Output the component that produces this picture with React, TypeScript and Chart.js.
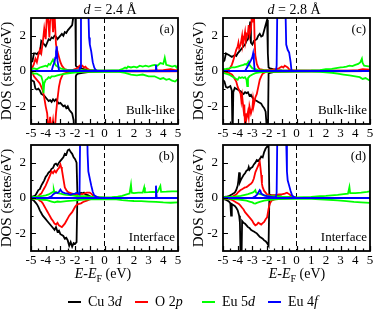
import React, { useEffect, useRef } from "react";
import { Chart, registerables } from "chart.js";

Chart.register(...registerables);

type Pt = [number, number];

// ---------- axes / categories ----------
const X_TICKS = [-5, -4, -3, -2, -1, 0, 1, 2, 3, 4, 5];
const X_MINOR = [-4.5, -3.5, -2.5, -1.5, -0.5, 0.5, 1.5, 2.5, 3.5, 4.5];
const Y_TICKS = [-2, 0, 2];
const Y_MINOR = [-1, 1];
const SPECIES = ["Cu 3d", "O 2p", "Eu 5d", "Eu 4f"];
const COLORS = ["#000000", "#ff0000", "#00ff00", "#0000ff"];

// ---------- (a) d = 2.4 Å, bulk-like ----------
const cuUpA: Pt[] = [[-5,0.5],[-4.9,0.55],[-4.8,1.0],[-4.7,1.0],[-4.6,0.95],[-4.5,1.05],[-4.4,1.0],[-4.3,1.7],[-4.2,1.6],[-4.1,1.5],[-4.0,1.4],[-3.9,1.6],[-3.8,1.8],[-3.7,1.75],[-3.6,1.9],[-3.5,1.85],[-3.4,2.0],[-3.3,1.95],[-3.2,1.8],[-3.1,1.9],[-3.0,2.0],[-2.9,2.1],[-2.8,2.0],[-2.7,2.2],[-2.6,2.15],[-2.5,2.3],[-2.4,2.4],[-2.3,2.5],[-2.2,2.6],[-2.1,3.2],[-2.0,5],[-1.95,0.3],[-1.9,0.25],[-1.8,0.2],[-1.6,0.15],[-1.4,0.1],[-1.0,0.05],[-0.5,0.03],[0,0.02],[5,0]];
const cuDnA: Pt[] = [[-5,-0.5],[-4.9,-0.55],[-4.8,-0.6],[-4.7,-1.0],[-4.6,-1.05],[-4.5,-1.0],[-4.4,-1.1],[-4.3,-1.3],[-4.2,-1.35],[-4.1,-1.4],[-4.0,-1.5],[-3.9,-1.6],[-3.8,-1.7],[-3.7,-1.65],[-3.6,-1.75],[-3.5,-1.6],[-3.4,-1.7],[-3.3,-1.6],[-3.2,-1.75],[-3.1,-1.85],[-3.0,-1.8],[-2.9,-1.9],[-2.8,-2.0],[-2.7,-1.95],[-2.6,-2.1],[-2.5,-2.0],[-2.4,-2.2],[-2.3,-2.3],[-2.2,-2.4],[-2.1,-2.8],[-2.0,-5],[-1.95,-0.3],[-1.9,-0.2],[-1.8,-0.15],[-1.5,-0.1],[-1.0,-0.05],[0,-0.02],[5,0]];
const oUpA: Pt[] = [[-5,0.0],[-4.9,0.2],[-4.8,0.4],[-4.7,0.7],[-4.6,0.5],[-4.5,0.9],[-4.4,1.2],[-4.3,1.0],[-4.2,1.6],[-4.1,2.4],[-4.0,1.8],[-3.9,3.5],[-3.8,2.6],[-3.75,1.9],[-3.7,2.8],[-3.6,3.6],[-3.5,2.2],[-3.4,3.3],[-3.3,1.5],[-3.2,1.1],[-3.1,0.8],[-3.0,0.5],[-2.9,0.3],[-2.8,0.2],[-2.7,0.1],[-2.5,0.05],[-2.2,0.05],[-2.0,0.1],[-1.8,0.2],[-1.7,0.3],[-1.6,0.25],[-1.5,0.3],[-1.4,0.2],[-1.3,0.25],[-1.2,0.15],[-1.1,0.1],[-1.0,0.05],[-0.8,0.02],[0,0.0],[3.0,0.02],[4.0,0.05],[4.5,0.1],[4.8,0.05],[5,0.05]];
const oDnA: Pt[] = [[-5,-0.05],[-4.9,-0.1],[-4.8,-0.3],[-4.7,-0.4],[-4.6,-0.5],[-4.5,-0.6],[-4.4,-0.7],[-4.3,-0.9],[-4.2,-1.1],[-4.1,-1.5],[-4.0,-2.0],[-3.9,-2.4],[-3.8,-3.5],[-3.7,-2.6],[-3.6,-3.4],[-3.5,-2.8],[-3.4,-3.6],[-3.3,-2.4],[-3.2,-1.6],[-3.1,-0.9],[-3.0,-0.5],[-2.9,-0.3],[-2.8,-0.15],[-2.6,-0.1],[-2.3,-0.05],[-2.0,-0.05],[-1.5,-0.05],[-1.0,-0.02],[0,0],[5,-0.02]];
const euUpA: Pt[] = [[-5,0.1],[-4.8,0.15],[-4.6,0.1],[-4.4,0.2],[-4.2,0.25],[-4.0,0.3],[-3.9,0.25],[-3.8,0.4],[-3.7,0.35],[-3.6,0.5],[-3.5,0.65],[-3.4,0.45],[-3.3,0.3],[-3.2,0.25],[-3.0,0.15],[-2.8,0.1],[-2.5,0.05],[-2.0,0.05],[-1.0,0.03],[0,0.02],[1.0,0.05],[1.2,0.1],[1.4,0.2],[1.5,0.15],[1.6,0.25],[1.8,0.2],[2.0,0.25],[2.2,0.2],[2.4,0.3],[2.6,0.25],[2.8,0.3],[3.0,0.25],[3.2,0.3],[3.4,0.35],[3.6,0.3],[3.8,0.45],[4.0,0.4],[4.1,0.75],[4.2,0.35],[4.4,0.3],[4.6,0.25],[4.8,0.3],[4.9,0.2],[5.0,0.35]];
const euDnA: Pt[] = [[-5,-0.1],[-4.8,-0.15],[-4.6,-0.15],[-4.4,-0.25],[-4.3,-0.3],[-4.2,-0.6],[-4.15,-1.25],[-4.1,-0.7],[-4.0,-0.5],[-3.9,-0.45],[-3.8,-0.35],[-3.7,-0.4],[-3.6,-0.3],[-3.4,-0.3],[-3.2,-0.25],[-3.0,-0.2],[-2.6,-0.15],[-2.2,-0.1],[-1.5,-0.05],[0,-0.03],[1.0,-0.05],[1.4,-0.1],[1.8,-0.2],[2.2,-0.25],[2.6,-0.2],[3.0,-0.3],[3.4,-0.3],[3.8,-0.45],[4.0,-0.4],[4.2,-0.5],[4.4,-0.45],[4.6,-0.55],[4.8,-0.6],[5.0,-0.45]];
const fUpA: Pt[] = [[-5,0],[-3.6,0],[-3.5,0.3],[-3.4,0.5],[-3.35,0.75],[-3.3,1.1],[-3.25,1.4],[-3.2,0.6],[-3.1,0.05],[-3.0,0],[-1.7,0.05],[-1.65,0.2],[-1.6,4.5],[-1.5,5],[-1.2,5],[-1.1,3.5],[-1.05,1.9],[-1.0,1.5],[-0.9,1.1],[-0.8,0.5],[-0.7,0.2],[-0.6,0.05],[-0.5,0],[3.45,0],[3.5,0.35],[3.55,0],[5,0]];
const fDnA: Pt[] = [[-5,0],[5,0]];

// ---------- (b) d = 2.4 Å, interface ----------
const cuUpB: Pt[] = [[-5,0.05],[-4.9,0.08],[-4.8,0.1],[-4.7,0.15],[-4.6,0.3],[-4.5,0.45],[-4.4,0.5],[-4.3,0.7],[-4.2,0.85],[-4.1,1.0],[-4.0,1.2],[-3.9,1.3],[-3.8,1.45],[-3.7,1.5],[-3.6,1.65],[-3.5,1.7],[-3.4,1.9],[-3.3,1.95],[-3.2,1.85],[-3.1,2.0],[-3.0,2.1],[-2.9,2.2],[-2.8,2.3],[-2.7,2.5],[-2.6,2.45],[-2.5,2.7],[-2.4,2.75],[-2.3,2.6],[-2.2,2.5],[-2.1,2.3],[-2.0,2.2],[-1.9,2.0],[-1.85,0.4],[-1.8,0.2],[-1.7,0.25],[-1.6,0.3],[-1.5,0.25],[-1.4,0.3],[-1.3,0.2],[-1.1,0.15],[-0.9,0.05],[0,0.02],[5,0]];
const cuDnB: Pt[] = [[-5,-0.05],[-4.9,-0.1],[-4.8,-0.15],[-4.7,-0.25],[-4.6,-0.35],[-4.5,-0.5],[-4.4,-0.7],[-4.3,-0.85],[-4.2,-1.0],[-4.1,-1.1],[-4.0,-1.2],[-3.9,-1.3],[-3.8,-1.4],[-3.7,-1.5],[-3.6,-1.6],[-3.5,-1.7],[-3.4,-1.8],[-3.3,-1.65],[-3.2,-1.9],[-3.1,-1.85],[-3.0,-2.05],[-2.9,-2.1],[-2.8,-2.15],[-2.7,-2.3],[-2.6,-2.25],[-2.5,-2.4],[-2.4,-2.7],[-2.3,-2.5],[-2.2,-2.75],[-2.1,-2.55],[-2.0,-2.6],[-1.9,-2.5],[-1.85,-0.1],[-1.7,-0.05],[-1.0,-0.02],[0,0],[5,0]];
const oUpB: Pt[] = [[-5,0],[-4.8,0.02],[-4.6,0.05],[-4.5,0.1],[-4.4,0.2],[-4.3,0.25],[-4.2,0.4],[-4.1,0.55],[-4.0,0.7],[-3.9,0.9],[-3.8,1.1],[-3.7,1.3],[-3.6,1.5],[-3.5,1.4],[-3.4,1.55],[-3.3,1.45],[-3.2,1.6],[-3.1,1.7],[-3.0,1.9],[-2.95,1.75],[-2.9,1.6],[-2.8,1.1],[-2.7,0.6],[-2.6,0.45],[-2.5,0.35],[-2.4,0.3],[-2.2,0.25],[-2.0,0.2],[-1.8,0.2],[-1.6,0.22],[-1.4,0.25],[-1.2,0.3],[-1.0,0.3],[-0.9,0.25],[-0.8,0.15],[-0.7,0.1],[-0.6,0.05],[-0.4,0.02],[0,0.01],[5,0.01]];
const oDnB: Pt[] = [[-5,0],[-4.8,-0.02],[-4.6,-0.05],[-4.5,-0.08],[-4.4,-0.15],[-4.3,-0.2],[-4.2,-0.3],[-4.1,-0.45],[-4.0,-0.6],[-3.9,-0.75],[-3.8,-0.9],[-3.7,-1.05],[-3.6,-1.2],[-3.5,-1.3],[-3.4,-1.45],[-3.3,-1.5],[-3.2,-1.4],[-3.1,-1.55],[-3.0,-1.6],[-2.9,-1.65],[-2.8,-1.55],[-2.7,-1.45],[-2.6,-1.3],[-2.5,-1.15],[-2.4,-1.0],[-2.3,-0.9],[-2.2,-0.8],[-2.1,-0.65],[-2.0,-0.5],[-1.9,-0.4],[-1.8,-0.35],[-1.6,-0.3],[-1.4,-0.2],[-1.2,-0.15],[-1.0,-0.08],[-0.7,-0.03],[0,0],[5,0]];
const euUpB: Pt[] = [[-5,0.05],[-4.6,0.08],[-4.2,0.12],[-4.0,0.15],[-3.8,0.2],[-3.6,0.3],[-3.5,0.35],[-3.45,0.47],[-3.4,0.3],[-3.3,0.35],[-3.2,0.28],[-3.0,0.25],[-2.8,0.2],[-2.6,0.18],[-2.2,0.15],[-1.8,0.1],[-1.4,0.1],[-1.0,0.08],[-0.5,0.05],[0,0.04],[0.5,0.05],[0.9,0.08],[1.2,0.12],[1.5,0.2],[1.7,0.25],[1.8,0.75],[1.85,0.3],[2.0,0.28],[2.3,0.3],[2.6,0.3],[2.7,0.6],[2.75,0.32],[3.0,0.33],[3.3,0.35],[3.6,0.33],[3.8,0.68],[3.85,0.35],[4.2,0.36],[4.6,0.38],[5.0,0.38]];
const euDnB: Pt[] = [[-5,-0.03],[-4.6,-0.05],[-4.2,-0.1],[-3.9,-0.12],[-3.6,-0.2],[-3.4,-0.25],[-3.2,-0.2],[-3.0,-0.22],[-2.6,-0.18],[-2.2,-0.15],[-1.8,-0.12],[-1.2,-0.08],[0,-0.06],[0.8,-0.08],[1.2,-0.12],[1.6,-0.15],[2.0,-0.17],[2.5,-0.18],[3.0,-0.2],[3.5,-0.22],[4.0,-0.25],[4.5,-0.27],[5.0,-0.25]];
const fUpB: Pt[] = [[-5,0],[-4.0,0],[-3.8,0.02],[-3.6,0.1],[-3.5,0.2],[-3.4,0.25],[-3.3,0.3],[-3.2,0.28],[-3.1,0.35],[-3.0,0.47],[-2.9,0.35],[-2.8,0.3],[-2.7,0.28],[-2.5,0.25],[-2.3,0.18],[-2.2,0.22],[-2.0,0.25],[-1.9,0.3],[-1.8,0.25],[-1.7,0.2],[-1.65,4],[-1.6,5],[-1.2,5],[-1.15,2.5],[-1.1,1.5],[-1.0,1.1],[-0.9,0.7],[-0.8,0.35],[-0.7,0.15],[-0.5,0.05],[-0.3,0],[3.45,0],[3.5,0.7],[3.55,0],[5,0]];
const fDnB: Pt[] = [[-5,0],[5,0]];

// ---------- (c) d = 2.8 Å, bulk-like ----------
const cuUpC: Pt[] = [[-5,0.5],[-4.9,0.6],[-4.8,1.0],[-4.7,0.95],[-4.6,0.9],[-4.5,0.85],[-4.4,0.8],[-4.3,0.85],[-4.2,0.9],[-4.1,0.85],[-4.0,1.0],[-3.9,1.1],[-3.8,1.2],[-3.7,1.3],[-3.6,1.4],[-3.5,1.5],[-3.4,1.7],[-3.3,1.8],[-3.2,2.3],[-3.15,2.8],[-3.1,1.6],[-3.0,1.5],[-2.9,1.7],[-2.8,1.75],[-2.7,1.8],[-2.6,2.0],[-2.5,2.1],[-2.4,1.95],[-2.3,2.0],[-2.2,2.3],[-2.1,2.6],[-2.0,2.9],[-1.95,1.0],[-1.9,0.2],[-1.8,0.15],[-1.6,0.1],[-1.3,0.05],[-1.0,0.03],[0,0.02],[5,0]];
const cuDnC: Pt[] = [[-5,-0.5],[-4.9,-0.6],[-4.8,-0.9],[-4.7,-0.95],[-4.6,-0.9],[-4.5,-0.85],[-4.4,-1.1],[-4.35,-4],[-4.3,-1.2],[-4.2,-0.95],[-4.1,-1.0],[-4.0,-1.05],[-3.9,-1.1],[-3.8,-1.15],[-3.7,-1.25],[-3.6,-1.3],[-3.5,-1.2],[-3.4,-1.25],[-3.3,-1.2],[-3.2,-1.4],[-3.1,-1.35],[-3.0,-1.5],[-2.9,-1.6],[-2.8,-1.65],[-2.7,-1.7],[-2.6,-1.75],[-2.5,-1.8],[-2.4,-1.85],[-2.3,-2.0],[-2.2,-2.1],[-2.1,-2.3],[-2.0,-3.5],[-1.95,-4],[-1.9,-0.15],[-1.8,-0.1],[-1.5,-0.05],[-1.0,-0.03],[0,-0.02],[5,0]];
const oUpC: Pt[] = [[-5,0.0],[-4.8,0.05],[-4.6,0.1],[-4.5,0.2],[-4.4,0.35],[-4.3,0.6],[-4.2,0.9],[-4.1,1.2],[-4.0,1.4],[-3.95,1.6],[-3.9,1.3],[-3.8,1.5],[-3.7,2.0],[-3.65,1.5],[-3.6,1.7],[-3.5,2.2],[-3.45,1.7],[-3.4,1.9],[-3.3,2.2],[-3.25,2.6],[-3.2,2.0],[-3.1,2.4],[-3.0,3.5],[-2.95,2.8],[-2.9,3.5],[-2.85,1.8],[-2.8,0.9],[-2.7,0.4],[-2.6,0.2],[-2.5,0.1],[-2.2,0.05],[-1.8,0.05],[-1.4,0.1],[-1.2,0.15],[-1.0,0.25],[-0.9,0.2],[-0.8,0.3],[-0.7,0.25],[-0.6,0.2],[-0.5,0.1],[-0.4,0.05],[0,0.02],[3.5,0.02],[4.2,0.05],[4.5,0.1],[5,0.08]];
const oDnC: Pt[] = [[-5,-0.02],[-4.6,-0.1],[-4.4,-0.2],[-4.3,-0.3],[-4.2,-0.45],[-4.1,-0.6],[-4.0,-0.9],[-3.9,-1.1],[-3.8,-1.3],[-3.75,-1.7],[-3.7,-1.4],[-3.6,-2.2],[-3.55,-1.9],[-3.5,-3.2],[-3.45,-2.4],[-3.4,-2.7],[-3.3,-2.3],[-3.25,-2.6],[-3.2,-2.0],[-3.1,-2.4],[-3.0,-2.1],[-2.95,-1.6],[-2.9,-1.9],[-2.8,-1.5],[-2.7,-1.3],[-2.6,-0.9],[-2.5,-0.5],[-2.4,-0.3],[-2.3,-0.15],[-2.1,-0.05],[-1.5,-0.03],[0,-0.02],[5,0]];
const euUpC: Pt[] = [[-5,0.1],[-4.8,0.12],[-4.6,0.15],[-4.4,0.2],[-4.2,0.2],[-4.0,0.25],[-3.8,0.3],[-3.6,0.35],[-3.5,0.4],[-3.4,0.35],[-3.3,0.5],[-3.25,0.55],[-3.2,0.35],[-3.1,0.25],[-3.0,0.15],[-2.8,0.1],[-2.6,0.05],[-2,0.03],[0,0.02],[1.0,0.03],[1.6,0.05],[2.0,0.1],[2.4,0.12],[2.8,0.18],[3.0,0.2],[3.2,0.22],[3.4,0.25],[3.6,0.3],[3.8,0.28],[4.0,0.35],[4.2,0.4],[4.35,0.5],[4.45,0.7],[4.5,0.45],[4.6,0.3],[4.8,0.28],[5.0,0.25]];
const euDnC: Pt[] = [[-5,-0.1],[-4.8,-0.15],[-4.6,-0.2],[-4.4,-0.3],[-4.2,-0.4],[-4.1,-0.45],[-4.0,-0.5],[-3.9,-0.35],[-3.8,-0.4],[-3.7,-0.35],[-3.6,-0.4],[-3.5,-0.35],[-3.4,-0.5],[-3.35,-0.85],[-3.3,-0.4],[-3.2,-0.3],[-3.0,-0.2],[-2.8,-0.12],[-2.5,-0.08],[-2,-0.05],[0,-0.03],[1.0,-0.03],[1.6,-0.05],[2.0,-0.08],[2.4,-0.1],[2.8,-0.15],[3.2,-0.2],[3.6,-0.25],[4.0,-0.3],[4.3,-0.35],[4.5,-0.45],[4.7,-0.4],[5.0,-0.55]];
const fUpC: Pt[] = [[-5,0],[-3.5,0],[-3.4,0.15],[-3.3,0.3],[-3.2,0.45],[-3.1,0.6],[-3.0,0.8],[-2.95,1.0],[-2.9,0.6],[-2.85,0.05],[-2.8,0],[-1.4,0.02],[-1.35,0.3],[-1.3,4],[-1.2,5],[-0.8,5],[-0.75,3.5],[-0.7,1.5],[-0.6,1.2],[-0.5,1.05],[-0.4,0.5],[-0.35,0.1],[-0.3,0],[5,0]];
const fDnC: Pt[] = [[-5,0],[5,0]];

// ---------- (d) d = 2.8 Å, interface ----------
const cuUpD: Pt[] = [[-5,0.05],[-4.8,0.07],[-4.6,0.1],[-4.5,0.15],[-4.4,0.2],[-4.3,0.25],[-4.2,0.3],[-4.1,0.45],[-4.0,0.7],[-3.95,1.0],[-3.9,1.45],[-3.85,0.9],[-3.8,1.0],[-3.7,1.15],[-3.6,1.3],[-3.5,1.4],[-3.4,1.55],[-3.3,1.6],[-3.25,1.75],[-3.2,1.6],[-3.1,1.7],[-3.0,1.75],[-2.9,1.9],[-2.8,2.0],[-2.7,2.15],[-2.6,2.1],[-2.5,2.2],[-2.4,2.35],[-2.3,2.3],[-2.2,2.6],[-2.1,2.8],[-2.0,2.9],[-1.95,3.5],[-1.9,3.2],[-1.85,0.2],[-1.7,0.15],[-1.5,0.15],[-1.3,0.12],[-1.0,0.08],[-0.5,0.05],[0,0.02],[5,0]];
const cuDnD: Pt[] = [[-5,-0.05],[-4.8,-0.1],[-4.6,-0.2],[-4.5,-0.3],[-4.45,-1.0],[-4.4,-0.35],[-4.3,-0.4],[-4.2,-0.45],[-4.1,-0.55],[-4.0,-0.7],[-3.9,-1.0],[-3.85,-1.4],[-3.8,-3.5],[-3.75,-4],[-3.7,-1.3],[-3.6,-1.4],[-3.5,-1.45],[-3.4,-1.55],[-3.3,-1.65],[-3.2,-1.7],[-3.1,-1.8],[-3.0,-1.85],[-2.9,-1.9],[-2.8,-1.95],[-2.7,-2.0],[-2.6,-2.1],[-2.5,-2.2],[-2.4,-2.25],[-2.3,-2.3],[-2.2,-2.4],[-2.1,-2.45],[-2.0,-2.55],[-1.9,-2.7],[-1.85,-0.1],[-1.7,-0.05],[-1.0,-0.02],[0,0],[5,0]];
const oUpD: Pt[] = [[-5,0],[-4.6,0.02],[-4.4,0.05],[-4.2,0.15],[-4.1,0.2],[-4.0,0.3],[-3.9,0.38],[-3.8,0.45],[-3.7,0.5],[-3.6,0.55],[-3.5,0.6],[-3.4,0.62],[-3.3,0.68],[-3.2,0.75],[-3.1,0.8],[-3.0,0.9],[-2.9,1.1],[-2.8,1.45],[-2.7,1.65],[-2.6,1.85],[-2.5,2.05],[-2.45,1.7],[-2.4,1.3],[-2.35,0.8],[-2.3,0.6],[-2.2,0.4],[-2.1,0.3],[-2.0,0.2],[-1.8,0.15],[-1.5,0.15],[-1.2,0.2],[-1.0,0.2],[-0.8,0.25],[-0.65,0.3],[-0.5,0.22],[-0.4,0.15],[-0.2,0.05],[0,0.02],[5,0.01]];
const oDnD: Pt[] = [[-5,-0.02],[-4.6,-0.05],[-4.4,-0.1],[-4.2,-0.2],[-4.1,-0.25],[-4.0,-0.3],[-3.9,-0.35],[-3.8,-0.45],[-3.7,-0.55],[-3.6,-0.65],[-3.5,-0.8],[-3.4,-0.9],[-3.3,-1.0],[-3.2,-1.1],[-3.1,-1.2],[-3.0,-1.3],[-2.9,-1.45],[-2.8,-1.55],[-2.7,-1.5],[-2.6,-1.4],[-2.5,-1.45],[-2.4,-1.5],[-2.3,-1.42],[-2.2,-1.35],[-2.1,-1.2],[-2.0,-1.1],[-1.9,-0.6],[-1.8,-0.3],[-1.7,-0.15],[-1.5,-0.08],[-1.0,-0.03],[0,0],[5,0]];
const euUpD: Pt[] = [[-5,0.05],[-4.6,0.06],[-4.2,0.08],[-3.8,0.12],[-3.5,0.18],[-3.3,0.22],[-3.1,0.28],[-3.0,0.3],[-2.9,0.35],[-2.8,0.45],[-2.75,0.3],[-2.6,0.25],[-2.4,0.2],[-2.2,0.15],[-2.0,0.12],[-1.6,0.1],[-1.0,0.07],[0,0.04],[1.0,0.06],[1.6,0.1],[2.0,0.12],[2.4,0.15],[2.8,0.18],[3.2,0.22],[3.5,0.25],[3.6,0.62],[3.65,0.28],[4.0,0.28],[4.4,0.3],[4.8,0.35],[5.0,0.38]];
const euDnD: Pt[] = [[-5,-0.03],[-4.6,-0.04],[-4.2,-0.06],[-3.8,-0.1],[-3.4,-0.15],[-3.2,-0.2],[-3.0,-0.25],[-2.9,-0.3],[-2.8,-0.32],[-2.7,-0.28],[-2.5,-0.22],[-2.2,-0.15],[-1.8,-0.1],[-1.2,-0.06],[0,-0.04],[1.0,-0.05],[1.6,-0.07],[2.2,-0.1],[2.8,-0.13],[3.4,-0.18],[3.9,-0.22],[4.4,-0.25],[5.0,-0.28]];
const fUpD: Pt[] = [[-5,0],[-3.0,0],[-2.9,0.05],[-2.8,0.1],[-2.7,0.18],[-2.6,0.3],[-2.5,0.45],[-2.45,0.4],[-2.4,0.25],[-2.3,0.2],[-2.2,0.15],[-2.0,0.1],[-1.8,0.08],[-1.6,0.05],[-1.4,0.05],[-1.35,0.3],[-1.3,4],[-1.2,5],[-0.75,5],[-0.7,3.2],[-0.65,1.5],[-0.6,1.0],[-0.5,0.7],[-0.4,0.4],[-0.3,0.15],[-0.15,0.05],[0,0],[5,0]];
const fDnD: Pt[] = [[-5,0],[5,0]];

// ---------- layout config ----------
const FONT = "'Liberation Serif', 'Times New Roman', Times, serif";

type PanelDef = {
  left: number; top: number; width: number; height: number; rightPad: number;
  corner: string; region: string;
  up: Pt[][]; dn: Pt[][];
};

const PANELS: PanelDef[] = [
  { left: 0, top: 0, width: 192, height: 142, rightPad: 14, corner: "(a)", region: "Bulk-like",
    up: [cuUpA, oUpA, euUpA, fUpA], dn: [cuDnA, oDnA, euDnA, fDnA] },
  { left: 0, top: 127, width: 192, height: 142, rightPad: 14, corner: "(b)", region: "Interface",
    up: [cuUpB, oUpB, euUpB, fUpB], dn: [cuDnB, oDnB, euDnB, fDnB] },
  { left: 192, top: 0, width: 182, height: 142, rightPad: 4, corner: "(c)", region: "Bulk-like",
    up: [cuUpC, oUpC, euUpC, fUpC], dn: [cuDnC, oDnC, euDnC, fDnC] },
  { left: 192, top: 127, width: 182, height: 142, rightPad: 4, corner: "(d)", region: "Interface",
    up: [cuUpD, oUpD, euUpD, fUpD], dn: [cuDnD, oDnD, euDnD, fDnD] },
];

const dosPlugin = {
  id: "dosDecor",
  beforeDatasetsDraw(chart: any) {
    const { ctx, chartArea } = chart;
    const x0 = chart.scales.x.getPixelForValue(0);
    ctx.save();
    ctx.strokeStyle = "#000";
    ctx.lineWidth = 1;
    ctx.setLineDash([5, 3]);
    ctx.beginPath();
    ctx.moveTo(x0, chartArea.top);
    ctx.lineTo(x0, chartArea.bottom);
    ctx.stroke();
    ctx.restore();
  },
  afterDatasetsDraw(chart: any, _args: any, opts: any) {
    const { ctx, chartArea } = chart;
    const xs = chart.scales.x;
    const ys = chart.scales.y;
    ctx.save();
    ctx.strokeStyle = "#000";
    ctx.lineWidth = 1.2;
    ctx.beginPath();
    for (const v of X_TICKS) {
      const px = Math.round(xs.getPixelForValue(v)) + 0.5;
      ctx.moveTo(px, chartArea.bottom);
      ctx.lineTo(px, chartArea.bottom - 5);
    }
    for (const v of X_MINOR) {
      const px = Math.round(xs.getPixelForValue(v)) + 0.5;
      ctx.moveTo(px, chartArea.bottom);
      ctx.lineTo(px, chartArea.bottom - 2.5);
    }
    for (const v of Y_TICKS) {
      const py = Math.round(ys.getPixelForValue(v)) + 0.5;
      ctx.moveTo(chartArea.left, py);
      ctx.lineTo(chartArea.left + 5, py);
    }
    for (const v of Y_MINOR) {
      const py = Math.round(ys.getPixelForValue(v)) + 0.5;
      ctx.moveTo(chartArea.left, py);
      ctx.lineTo(chartArea.left + 2.5, py);
    }
    ctx.stroke();
    ctx.lineWidth = 1.8;
    ctx.setLineDash([]);
    ctx.strokeRect(chartArea.left, chartArea.top, chartArea.right - chartArea.left, chartArea.bottom - chartArea.top);
    ctx.fillStyle = "#000";
    ctx.font = `13px ${FONT}`;
    ctx.textAlign = "right";
    ctx.textBaseline = "middle";
    ctx.fillText(opts.corner, chartArea.right - 4, chartArea.top + 12);
    ctx.fillText(opts.region, chartArea.right - 3, chartArea.bottom - 13);
    ctx.restore();
  },
};

function Panel({ def }: { def: PanelDef }) {
  const ref = useRef<HTMLCanvasElement | null>(null);
  useEffect(() => {
    if (!ref.current) return;
    const datasets: any[] = [];
    SPECIES.forEach((name, i) => {
      [def.up[i], def.dn[i]].forEach((pts, k) => {
        datasets.push({
          label: `${name} ${k === 0 ? "up" : "down"}`,
          data: pts.map(([x, y]) => ({ x, y })),
          borderColor: COLORS[i],
          backgroundColor: COLORS[i],
          borderWidth: 1.8,
          pointRadius: 0,
          tension: 0,
          fill: false,
          order: SPECIES.length - i,
        });
      });
    });
    const chart = new Chart(ref.current, {
      type: "line",
      data: { datasets },
      plugins: [dosPlugin],
      options: {
        animation: false,
        responsive: false,
        maintainAspectRatio: false,
        events: [],
        layout: { padding: { top: 18, right: def.rightPad, left: 0, bottom: 0 } },
        plugins: {
          legend: { display: false },
          tooltip: { enabled: false },
          dosDecor: { corner: def.corner, region: def.region },
        } as any,
        scales: {
          x: {
            type: "linear",
            min: -5,
            max: 5,
            afterBuildTicks: (s: any) => { s.ticks = X_TICKS.map((value) => ({ value })); },
            ticks: { font: { family: FONT, size: 13 }, color: "#000", padding: 2, maxRotation: 0, autoSkip: false },
            grid: { display: false, drawTicks: false, tickLength: 0 },
            border: { display: false },
            afterFit: (s: any) => { s.height = 18; s.paddingLeft = 0; s.paddingRight = 0; },
          },
          y: {
            type: "linear",
            min: -3,
            max: 3,
            afterBuildTicks: (s: any) => { s.ticks = Y_TICKS.map((value) => ({ value })); },
            ticks: { font: { family: FONT, size: 13 }, color: "#000", padding: 5 },
            grid: { display: false, drawTicks: false, tickLength: 0 },
            border: { display: false },
            title: { display: true, text: "DOS (states/eV)", color: "#000", font: { family: FONT, size: 15, lineHeight: 1 }, padding: 0 },
            afterFit: (s: any) => { s.width = 31; s.paddingTop = 0; s.paddingBottom = 0; },
          },
        } as any,
      },
    });
    return () => chart.destroy();
  }, [def]);
  return (
    <canvas
      ref={ref}
      width={def.width}
      height={def.height}
      style={{ position: "absolute", left: def.left, top: def.top, width: def.width, height: def.height }}
    />
  );
}

const TITLES = [
  { d: "2.4", x: 110 },
  { d: "2.8", x: 294 },
];
const XTITLE_X = [103, 297];
const LEGEND_X = [68, 135, 202, 268];

function SpeciesLabel({ name }: { name: string }) {
  const [el, orb] = name.split(" ");
  return (
    <span>
      {el} {orb[0]}<i>{orb.slice(1)}</i>
    </span>
  );
}

export default function App() {
  return (
    <div style={{ position: "absolute", left: 0, top: 0, width: 374, height: 309, background: "#fff", fontFamily: FONT, color: "#000", overflow: "hidden" }}>
      {PANELS.map((p, i) => <Panel key={i} def={p} />)}
      {TITLES.map((t, i) => (
        <div key={i} style={{ position: "absolute", left: t.x, top: 2, transform: "translateX(-50%)", fontSize: 14, lineHeight: "16px", whiteSpace: "nowrap" }}>
          <i>d</i> = {t.d} Å
        </div>
      ))}
      {XTITLE_X.map((x, i) => (
        <div key={i} style={{ position: "absolute", left: x, top: 266, transform: "translateX(-50%)", fontSize: 14, lineHeight: "16px", whiteSpace: "nowrap" }}>
          <i>E</i>-<i>E</i><span style={{ fontSize: 10, position: "relative", top: 4 }}>F</span> (eV)
        </div>
      ))}
      {SPECIES.map((name, i) => (
        <div key={name} style={{ position: "absolute", left: LEGEND_X[i], top: 294, height: 16, display: "flex", alignItems: "center", fontSize: 14, lineHeight: "16px", whiteSpace: "nowrap" }}>
          <span style={{ display: "inline-block", width: 13, height: 2, background: COLORS[i], marginRight: 7 }} />
          <SpeciesLabel name={name} />
        </div>
      ))}
    </div>
  );
}
